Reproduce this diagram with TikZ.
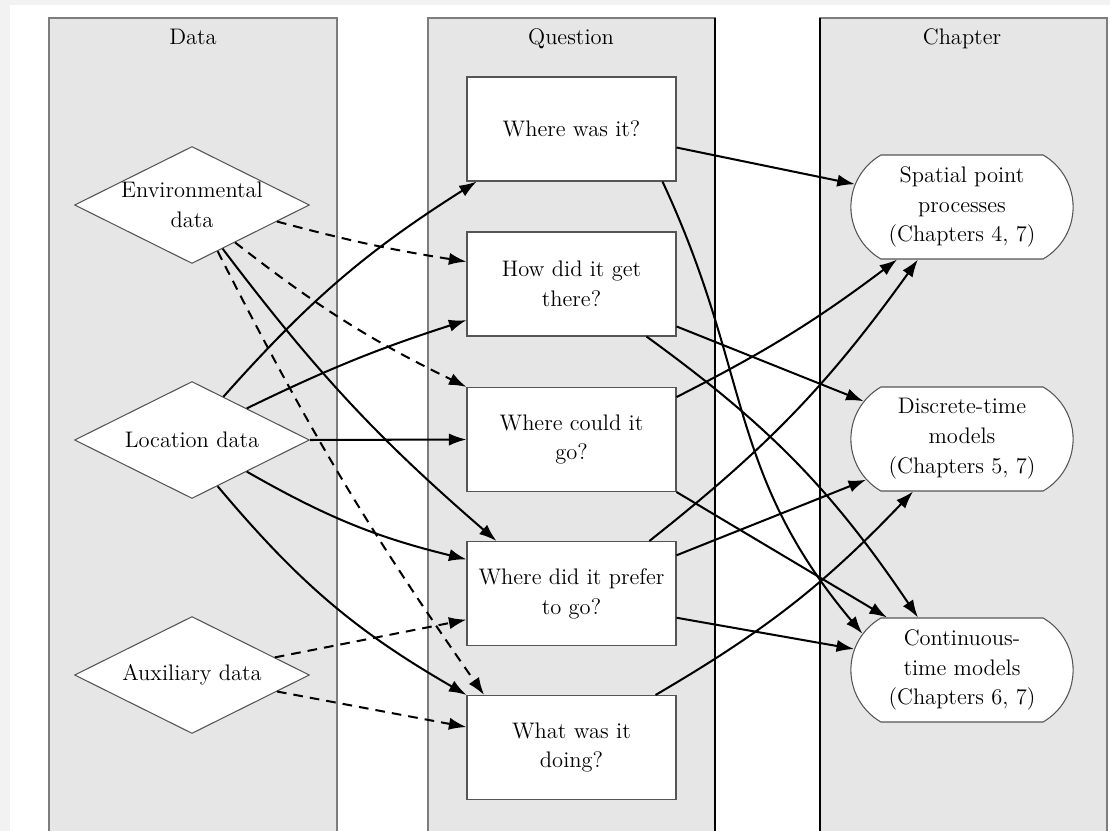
\documentclass[tikz,border=0pt]{standalone}
\usepackage{tikz}
\usetikzlibrary{shapes.geometric, shapes.misc, arrows.meta}
\definecolor{PanelGray}{RGB}{230, 230, 230}
\definecolor{PanelEdge}{RGB}{125, 125, 125}
\definecolor{PageGray}{RGB}{242, 242, 242}
\definecolor{BoxEdge}{RGB}{85, 85, 85}

\begin{document}
\begin{tikzpicture}[x=0.02cm, y=-0.02cm,
            font=\fontsize{12.8}{17}\selectfont,
            panel/.style={draw=PanelEdge, line width=1.2pt, fill=PanelGray},
            datanode/.style={diamond, draw=BoxEdge, line width=0.6pt, fill=white, aspect=2, inner sep=0pt, minimum width=4.7cm, minimum height=2.34cm, align=center},
            question/.style={rectangle, draw=BoxEdge, line width=0.6pt, fill=white, minimum width=4.18cm, minimum height=2.08cm, align=center},
            chapter/.style={rounded rectangle, rounded rectangle arc length=120, draw=BoxEdge, line width=0.6pt, fill=white, minimum width=4.68cm, minimum height=2.08cm, align=center},
            link/.style={line width=1.15pt, -{Latex[length=10pt, width=7pt]}},
            dlink/.style={link, dash pattern=on 5.5pt off 4pt}
        ]
        \useasboundingbox (0,0) rectangle (1110,831);
        \clip (0,0) rectangle (1110,831);
        \fill[PageGray] (0,0) rectangle (1110,831);
        \fill[white] (10,5) rectangle (1110,831);

        % The Panels
        \draw[panel] (49,18) rectangle (337,845);
        \draw[panel] (428,18) rectangle (715,845);
        \draw[panel] (820,18) rectangle (1107,845);
        \draw[line width=0.6pt] (715,18) -- (715,845) (820,18) -- (820,845);
        \node[anchor=base] (tdata) at (193,45) {Data};
        \node[anchor=base] (tquestion) at (571,45) {Question};
        \node[anchor=base] (tchapter) at (962,45) {Chapter};

        % Data
        \node[datanode] (env) at (192,205) {Environmental\\data};
        \node[datanode] (loc) at (192,440) {Location data};
        \node[datanode] (aux) at (192,675) {Auxiliary data};

        % Questions
        \node[question] (qwhere) at (571.5,129) {Where was it?};
        \node[question] (qhow) at (571.5,284) {How did it get\\there?};
        \node[question] (qcould) at (571.5,439.5) {Where could it\\go?};
        \node[question] (qprefer) at (571.5,593.5) {Where did it prefer\\to go?};
        \node[question] (qdoing) at (571.5,747.5) {What was it\\doing?};

        % Chapters
        \node[chapter] (spatial) at (962,207) {Spatial point\\processes\\(Chapters 4, 7)};
        \node[chapter] (discrete) at (962,439) {Discrete-time\\models\\(Chapters 5, 7)};
        \node[chapter] (continuous) at (962,670) {Continuous-\\time models\\(Chapters 6, 7)};

        % Data to questions
        \draw[dlink] (env.-11) to[bend right=3] (qhow.168);
        \draw[dlink] (env.-41) to[bend right=6] (qcould.north west);
        \draw[link] (env.-55) to[bend right=6] (qprefer.145);
        \draw[dlink] (env.-61) to[bend right=4] (qdoing.149);
        \draw[link] (loc.54) to[bend left=8] (qwhere.209);
        \draw[link] (loc.30) to[bend left=4] (qhow.199);
        \draw[link] (loc.east) -- (qcould.west);
        \draw[link] (loc.-30) to[bend right=8] (qprefer.162);
        \draw[link] (loc.-61) to[bend right=10] (qdoing.north west);
        \draw[dlink] (aux.12) -- (qprefer.194);
        \draw[dlink] (aux.-11) -- (qdoing.169);

        % Questions to chapters
        \draw[link] (qwhere.-10) -- (spatial.168);
        \draw[link] (qwhere.-30) to[out=-65, in=130, looseness=1.1] (continuous.160);
        \draw[link] (qhow.-22) -- (discrete.159);
        \draw[link] (qhow.-35) to[bend left=10] (continuous.130);
        \draw[link] (qcould.22) to[bend right=5] (spatial.219);
        \draw[link] (qcould.south east) -- (continuous.145);
        \draw[link] (qprefer.34) to[bend right=8] (spatial.230);
        \draw[link] (qprefer.20) -- (discrete.203);
        \draw[link] (qprefer.-13) -- (continuous.169);
        \draw[link] (qdoing.32) to[bend right=8] (discrete.227);

        \end{tikzpicture}
\end{document}
